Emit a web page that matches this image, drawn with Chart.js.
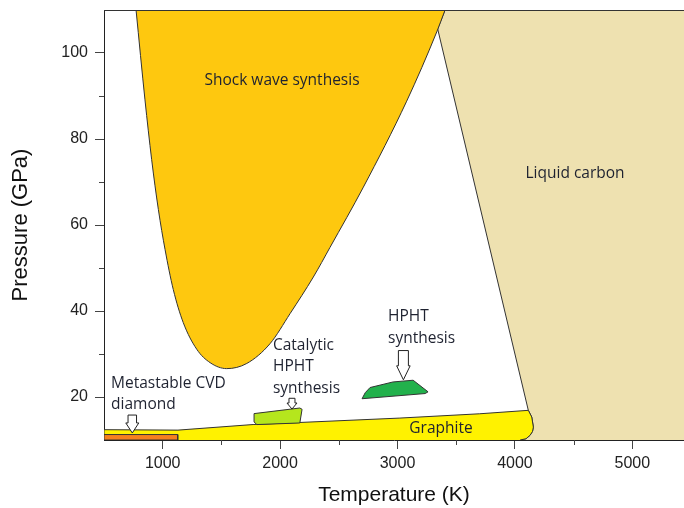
<!DOCTYPE html>
<html>
<head>
<meta charset="utf-8">
<script src="https://cdn.jsdelivr.net/npm/chart.js@4/dist/chart.umd.min.js"></script>
<style>
  html, body { margin: 0; padding: 0; background: #ffffff; overflow: hidden; }
  #wrap { width: 684px; height: 508px; }
</style>
</head>
<body>
<div id="wrap"><canvas id="phase" width="684" height="508"></canvas></div>
<script>
// Axis ticks (temperature in K, pressure in GPa)
const tempTicks = [1000, 2000, 3000, 4000, 5000];
const tempMinor = [1500, 2500, 3500, 4500];
const pressTicks = [20, 40, 60, 80, 100];
const pressMinor = [30, 50, 70, 90];

// Region outlines: temperature (K) and pressure (GPa) of each boundary point
const shockT = [773, 849, 906, 963, 1020, 1090, 1175, 1290, 1403, 1545, 1716, 1914, 2085, 2283, 2425, 2709, 3078, 3334, 3405];
const shockP = [110, 89.1, 75.2, 63.6, 54.3, 45.0, 37.3, 31.1, 28.0, 26.6, 27.8, 32.4, 39.4, 47.9, 54.8, 68.8, 88.8, 104.9, 110];

const liquidT = [5600, 3433, 3342, 4114, 4143, 4157, 4150, 4129, 4095, 4044, 4000, 5600];
const liquidP = [112, 112, 105.6, 16.9, 15.35, 13.0, 12.0, 11.1, 10.3, 10.0, 9.0, 9.0];

const graphiteT = [500, 500, 1130, 1770, 3020, 3700, 4114, 4143, 4157, 4150, 4129, 4095, 4044];
const graphiteP = [10, 12.4, 12.3, 13.6, 15.1, 16.1, 16.9, 15.35, 13.0, 12.0, 11.1, 10.3, 10.0];

const cvdT = [500, 500, 1128, 1128, 500];
const cvdP = [10, 11.27, 11.27, 10, 10];

const catalyticT = [1778, 2168, 2187, 2168, 1802, 1778, 1778];
const catalyticP = [16.14, 17.44, 17.14, 13.96, 13.59, 14.2, 16.14];

const hphtT = [2698, 2725, 2766, 2962, 3133, 3260, 3235, 2698];
const hphtP = [19.6, 21.0, 22.2, 23.5, 23.9, 21.2, 20.8, 19.6];

const toPoints = (ts, ps) => ts.map((t, i) => ({ x: t, y: ps[i] }));

function region(label, ts, ps, color, order, extra) {
  return Object.assign({
    label,
    data: toPoints(ts, ps),
    showLine: true,
    fill: 'shape',
    backgroundColor: color,
    borderColor: '#333333',
    borderWidth: 1,
    pointRadius: 0,
    pointHoverRadius: 0,
    tension: 0,
    order
  }, extra || {});
}

// Region names and annotation arrows
const regionLabels = [
  { lines: ['Shock wave synthesis'], t: 2016, p: 93.6, align: 'center' },
  { lines: ['Liquid carbon'], t: 4512, p: 72.0, align: 'center' },
  { lines: ['Graphite'], t: 3370, p: 12.7, align: 'center' },
  { lines: ['Catalytic', 'HPHT', 'synthesis'], t: 1939, p: 32.0, align: 'left' },
  { lines: ['HPHT', 'synthesis'], t: 2919, p: 38.6, align: 'left' },
  { lines: ['Metastable CVD', 'diamond'], t: 560, p: 23.2, align: 'left' }
];

const arrows = [
  { t: 741, top: 15.8, tip: 11.64, shaft: 8.5, head: 13, headLen: 10 },
  { t: 2101, top: 19.7, tip: 17.2, shaft: 6, head: 10, headLen: 6 },
  { t: 3050, top: 30.8, tip: 24.0, shaft: 10, head: 13.5, headLen: 14 }
];

const annotations = {
  id: 'annotations',
  afterDatasetsDraw(chart) {
    const { ctx, chartArea, scales: { x, y } } = chart;
    ctx.save();
    // frame line along the top of the plot
    ctx.strokeStyle = '#333333';
    ctx.lineWidth = 1;
    ctx.beginPath();
    ctx.moveTo(chartArea.left, Math.round(chartArea.top) + 0.5);
    ctx.lineTo(chartArea.right, Math.round(chartArea.top) + 0.5);
    ctx.stroke();

    // hollow arrows
    arrows.forEach(a => {
      const cx = x.getPixelForValue(a.t);
      const yTop = y.getPixelForValue(a.top);
      const yTip = y.getPixelForValue(a.tip);
      const yHead = yTip - a.headLen;
      ctx.beginPath();
      ctx.moveTo(cx - a.shaft / 2, yTop);
      ctx.lineTo(cx + a.shaft / 2, yTop);
      ctx.lineTo(cx + a.shaft / 2, yHead);
      ctx.lineTo(cx + a.head / 2, yHead);
      ctx.lineTo(cx, yTip);
      ctx.lineTo(cx - a.head / 2, yHead);
      ctx.lineTo(cx - a.shaft / 2, yHead);
      ctx.closePath();
      ctx.fillStyle = '#ffffff';
      ctx.fill();
      ctx.strokeStyle = '#222222';
      ctx.stroke();
    });

    // region names
    ctx.font = '15.5px "Open Sans"';
    ctx.fillStyle = '#1e2230';
    ctx.textBaseline = 'middle';
    regionLabels.forEach(l => {
      ctx.textAlign = l.align;
      const px = x.getPixelForValue(l.t);
      const py = y.getPixelForValue(l.p);
      l.lines.forEach((s, i) => ctx.fillText(s, px, py + i * 21.5));
    });

    // minor ticks
    ctx.strokeStyle = '#444444';
    ctx.beginPath();
    tempMinor.forEach(v => {
      const px = Math.round(x.getPixelForValue(v)) + 0.5;
      ctx.moveTo(px, chartArea.bottom);
      ctx.lineTo(px, chartArea.bottom + 5);
    });
    pressMinor.forEach(v => {
      const py = Math.round(y.getPixelForValue(v)) + 0.5;
      ctx.moveTo(chartArea.left, py);
      ctx.lineTo(chartArea.left - 5, py);
    });
    ctx.stroke();
    ctx.restore();
  }
};

const tickFont = { family: '"Liberation Sans", Arial, sans-serif', size: 16 };

new Chart(document.getElementById('phase'), {
  type: 'scatter',
  data: {
    datasets: [
      region('Liquid carbon', liquidT, liquidP, '#EEE1B0', 6),
      region('Shock wave synthesis', shockT, shockP, '#FEC80F', 5, { cubicInterpolationMode: 'monotone' }),
      region('Graphite', graphiteT, graphiteP, '#FFF200', 4),
      region('Metastable CVD diamond', cvdT, cvdP, '#F5801F', 3),
      region('Catalytic HPHT synthesis', catalyticT, catalyticP, '#B5E61D', 2),
      region('HPHT synthesis', hphtT, hphtP, '#22B14C', 1)
    ]
  },
  options: {
    responsive: false,
    animation: false,
    events: [],
    layout: { padding: { top: 10, right: 0, bottom: 0, left: 0 } },
    plugins: { legend: { display: false }, tooltip: { enabled: false } },
    scales: {
      x: {
        type: 'linear',
        min: 500,
        max: 5440,
        afterBuildTicks: s => { s.ticks = tempTicks.map(v => ({ value: v })); },
        afterFit: s => { s.height = 68; s.paddingLeft = 0; s.paddingRight = 0; },
        ticks: {
          autoSkip: false,
          maxRotation: 0,
          padding: 5,
          color: '#222222',
          font: tickFont,
          callback: v => String(v)
        },
        grid: { drawOnChartArea: false, drawTicks: true, tickLength: 9, tickColor: '#444444', tickWidth: 1 },
        border: { display: true, color: '#222222', width: 1 },
        title: {
          display: true, text: 'Temperature (K)', color: '#111111',
          font: { family: '"Liberation Sans", Arial, sans-serif', size: 21 },
          padding: { top: 0, bottom: 0 }
        }
      },
      y: {
        type: 'linear',
        min: 10,
        max: 110,
        afterBuildTicks: s => { s.ticks = pressTicks.map(v => ({ value: v })); },
        afterFit: s => { s.width = 104; s.paddingTop = 0; s.paddingBottom = 0; },
        ticks: {
          autoSkip: false,
          padding: 7,
          color: '#222222',
          font: tickFont,
          callback: v => String(v)
        },
        grid: { drawOnChartArea: false, drawTicks: true, tickLength: 9, tickColor: '#444444', tickWidth: 1 },
        border: { display: true, color: '#222222', width: 1 },
        title: {
          display: true, text: 'Pressure (GPa)', color: '#111111',
          font: { family: '"Liberation Sans", Arial, sans-serif', size: 22 },
          padding: { top: 8, bottom: 0 }
        }
      }
    }
  },
  plugins: [annotations]
});
</script>
</body>
</html>
